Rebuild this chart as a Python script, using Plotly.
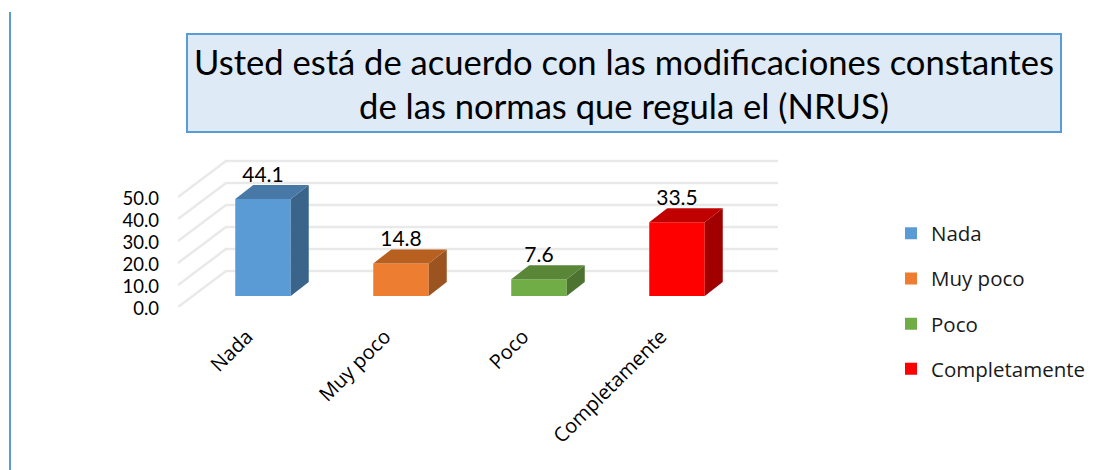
import plotly.graph_objects as go

categories = ["Nada", "Muy poco", "Poco", "Completamente"]
values = [44.1, 14.8, 7.6, 33.5]
front_colors = ["#5b9bd5", "#ed7d31", "#70ad47", "#ff0000"]
top_colors = ["#4878a6", "#b7601f", "#5a8638", "#c00000"]
side_colors = ["#3a6489", "#9b5420", "#4c7430", "#a00000"]
y_ticks = [0, 10, 20, 30, 40, 50]
y_tick_labels = ["0.0", "10.0", "20.0", "30.0", "40.0", "50.0"]
title_lines = ["Usted está de acuerdo con las modificaciones constantes",
               "de las normas que regula el (NRUS)"]

W, H = 1102, 470
FONT = "Lato, Carlito, Calibri, sans-serif"
FONT2 = "'Open Sans', Lato, sans-serif"
PX_X = 138.0        # pixels per category
PX_Y = 2.2          # pixels per value unit
WALL_DX = 48 / PX_X  # depth of the floor, x units
WALL_DY = 36 / PX_Y  # depth of the floor, y units
BAR_W = 55.5 / PX_X
BAR_DX = 16 / PX_X   # bar placement within the floor depth
BAR_BASE = 11 / PX_Y
DEPTH_X = 18 / PX_X
DEPTH_Y = 14 / PX_Y
X_MIN, X_MAX = -0.5, 3.5 + WALL_DX

fig = go.Figure()

for i, (cat, v) in enumerate(zip(categories, values)):
    fig.add_trace(go.Bar(x=[i + BAR_DX], y=[v], base=[BAR_BASE], width=BAR_W, name=cat,
                         legendgroup=cat, marker=dict(color=front_colors[i], line_width=0),
                         hovertemplate=cat + ": %{y:.1f}<extra></extra>"))

for i, v in enumerate(values):
    xl = i + BAR_DX - BAR_W / 2
    xr = i + BAR_DX + BAR_W / 2
    bot, top = BAR_BASE, BAR_BASE + v
    fig.add_trace(go.Scatter(x=[xr, xr + DEPTH_X, xr + DEPTH_X, xr, xr],
                             y=[bot, bot + DEPTH_Y, top + DEPTH_Y, top, bot],
                             mode="lines", fill="toself", fillcolor=side_colors[i],
                             line=dict(width=0), showlegend=False, hoverinfo="skip"))
    fig.add_trace(go.Scatter(x=[xl, xl + DEPTH_X, xr + DEPTH_X, xr, xl],
                             y=[top, top + DEPTH_Y, top + DEPTH_Y, top, top],
                             mode="lines", fill="toself", fillcolor=top_colors[i],
                             line=dict(width=0), showlegend=False, hoverinfo="skip"))

fig.add_trace(go.Scatter(
    x=[i + BAR_DX for i in range(len(values))],
    y=[BAR_BASE + v + DEPTH_Y - 1 for v in values],
    mode="text", text=[f"{v:.1f}" for v in values], textposition="top center",
    textfont=dict(family=FONT, size=21, color="#000000"),
    showlegend=False, hoverinfo="skip", cliponaxis=False))

shapes = []
for t in y_ticks:
    shapes.append(dict(type="path", layer="below", xref="x", yref="y",
                       path=f"M {X_MIN} {t} L {X_MIN + WALL_DX} {t + WALL_DY} L {X_MAX} {t + WALL_DY}",
                       line=dict(color="#e9e9e9", width=2.5)))
shapes.append(dict(type="rect", xref="paper", yref="paper", layer="below",
                   x0=187 / W, x1=1061 / W, y0=1 - 132 / H, y1=1 - 34 / H,
                   fillcolor="#deeaf6", line=dict(color="#5b9bd5", width=2)))
shapes.append(dict(type="line", xref="paper", yref="paper", layer="below",
                   x0=10 / W, x1=10 / W, y0=0, y1=1 - 12 / H,
                   line=dict(color="#5b9bd5", width=2)))

fig.update_layout(
    width=W, height=H, autosize=False,
    margin=dict(l=0, r=0, t=0, b=0),
    paper_bgcolor="#ffffff", plot_bgcolor="rgba(0,0,0,0)",
    barmode="overlay", shapes=shapes,
    font=dict(family=FONT, color="#000000"),
    title=dict(text="<br>".join(title_lines), x=624 / W, xanchor="center",
               xref="paper", yref="paper", y=1 - 74.5 / H, yanchor="top",
               font=dict(family=FONT, size=34.6, color="#000000"),
               pad=dict(t=0)),
    legend=dict(x=891 / W, xanchor="left", y=1 - 213.5 / H, yanchor="top",
                font=dict(family=FONT2, size=20.5, color="#1a1a1a"),
                tracegroupgap=15.5, bgcolor="rgba(0,0,0,0)", borderwidth=0,
                itemclick=False, itemdoubleclick=False),
    xaxis=dict(domain=[178 / W, 778 / W], range=[X_MIN, X_MAX], automargin=False,
               tickmode="array", tickvals=list(range(len(categories))), ticktext=categories,
               tickangle=-45, ticks="", ticklabelstandoff=13, showgrid=False, zeroline=False,
               showline=False, tickfont=dict(family=FONT2, size=20, color="#000000")),
    yaxis=dict(domain=[1 - 307 / H, 1 - 150 / H], range=[0, 157 / PX_Y], automargin=False,
               tickmode="array", tickvals=y_ticks, ticktext=y_tick_labels,
               ticks="", ticklabelstandoff=18, ticklabelshift=2, showgrid=False, zeroline=False,
               showline=False, tickfont=dict(family=FONT, size=18.5, color="#000000")),
)

fig.write_html("out.html", config=dict(displayModeBar=False),
               post_script="document.body.style.margin='0';document.documentElement.style.margin='0';document.body.style.overflow='hidden';")
